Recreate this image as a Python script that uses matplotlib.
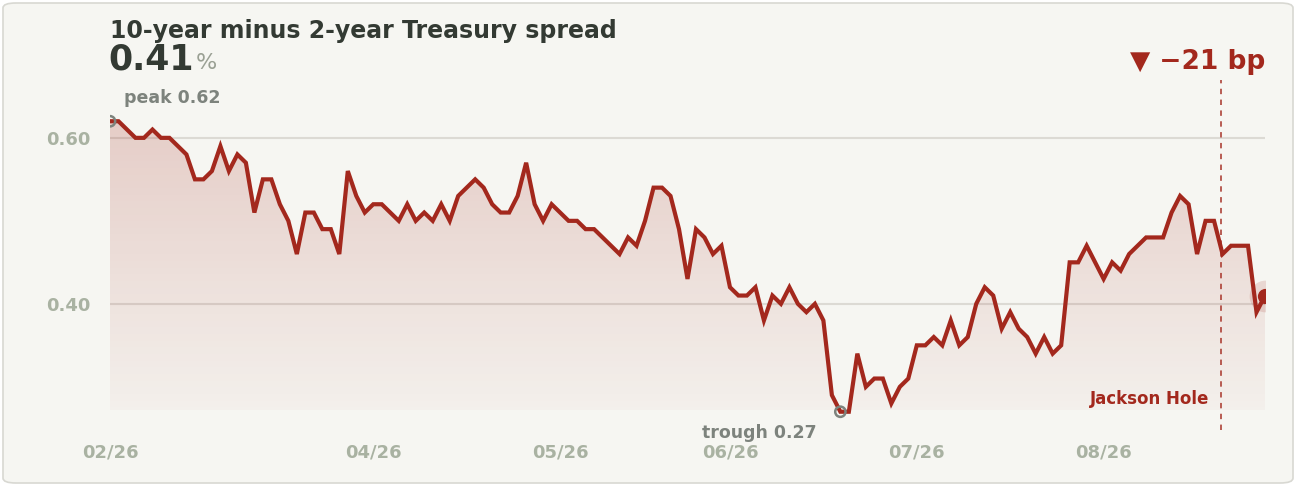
"""10y minus 2y Treasury spread: card-style line chart with shaded area."""

import matplotlib.pyplot as plt
import numpy as np
from matplotlib.patches import FancyBboxPatch

# Daily spread, in percent (business days)
spread = [
    0.62, 0.62, 0.61, 0.60, 0.60, 0.61, 0.60, 0.60, 0.59, 0.58, 0.55, 0.55, 0.56,
    0.59, 0.56, 0.58, 0.57, 0.51, 0.55, 0.55, 0.52, 0.50, 0.46, 0.51, 0.51, 0.49,
    0.49, 0.46, 0.56, 0.53, 0.51, 0.52, 0.52, 0.51, 0.50, 0.52, 0.50, 0.51, 0.50,
    0.52, 0.50, 0.53, 0.54, 0.55, 0.54, 0.52, 0.51, 0.51, 0.53, 0.57, 0.52, 0.50,
    0.52, 0.51, 0.50, 0.50, 0.49, 0.49, 0.48, 0.47, 0.46, 0.48, 0.47, 0.50, 0.54,
    0.54, 0.53, 0.49, 0.43, 0.49, 0.48, 0.46, 0.47, 0.42, 0.41, 0.41, 0.42, 0.38,
    0.41, 0.40, 0.42, 0.40, 0.39, 0.40, 0.38, 0.29, 0.27, 0.27, 0.34, 0.30, 0.31,
    0.31, 0.28, 0.30, 0.31, 0.35,
    0.35, 0.36, 0.35, 0.38, 0.35, 0.36, 0.40, 0.42, 0.41, 0.37, 0.39, 0.37, 0.36,
    0.34, 0.36, 0.34, 0.35, 0.45, 0.45, 0.47, 0.45, 0.43, 0.45, 0.44, 0.46, 0.47,
    0.48, 0.48, 0.48, 0.51, 0.53, 0.52, 0.46, 0.50, 0.50, 0.46, 0.47, 0.47, 0.47,
    0.39, 0.41,
]
tick_pos = [0, 31, 53, 73, 95, 117]
tick_labels = ["02/26", "04/26", "05/26", "06/26", "07/26", "08/26"]
event_pos = 130.8
event_label = "Jackson Hole"

RED = "#a3281d"
GRAY = "#7d837d"
TICK = "#a9b2a2"
BG = "#f6f6f2"

W, H = 1296, 486
x = np.arange(len(spread))
y = np.array(spread)
i_peak, i_trough = int(np.argmax(y)), int(np.argmin(y))
change_bp = round((y[-1] - y[0]) * 100)

fig = plt.figure(figsize=(W / 100, H / 100), dpi=100)
fig.patch.set_facecolor("white")
card = FancyBboxPatch((3 / W, 3 / H), 1 - 6 / W, 1 - 6 / H,
                      boxstyle="round,pad=0,rounding_size=0.01",
                      transform=fig.transFigure, facecolor=BG,
                      edgecolor="#d8d8d2", linewidth=1.2, zorder=-10)
fig.patches.append(card)

ax = fig.add_axes([110 / W, 1 - 430 / H, 1155 / W, 350 / H])
ax.set_facecolor("none")
ax.set_xlim(0, len(spread) - 1)
ylo, yhi = 0.248, 0.6697
ax.set_ylim(ylo, yhi)

# gradient fill under the line
grad = np.linspace(0.2, 0.03, 256).reshape(-1, 1)
rgba = np.zeros((256, 1, 4))
rgba[..., 0], rgba[..., 1], rgba[..., 2] = 0.64, 0.16, 0.11
rgba[..., 3] = grad
im = ax.imshow(rgba, aspect="auto", origin="upper",
               extent=(0, len(spread) - 1, 0.272, y.max()), zorder=1)
poly = ax.fill_between(x, y, 0.272, color="none")
im.set_clip_path(poly.get_paths()[0], transform=ax.transData)
ax.set_xlim(0, len(spread) - 1)
ax.set_ylim(ylo, yhi)

for v in (0.40, 0.60):
    ax.axhline(v, color="#dcdad4", lw=1.5, zorder=0)
ax.plot(x, y, color=RED, lw=3, zorder=3, solid_joinstyle="miter")

# end marker
ax.scatter([x[-1]], [y[-1]], s=520, color=RED, alpha=0.15, zorder=4, lw=0)
ax.scatter([x[-1]], [y[-1]], s=120, color=RED, zorder=5, lw=0)

# peak / trough markers
ax.scatter([i_peak, i_trough], [y[i_peak], y[i_trough]], s=55, facecolor="none",
           edgecolor=GRAY, lw=1.8, zorder=5)
ax.annotate(f"peak {y[i_peak]:.2f}", (i_peak, y[i_peak]), xytext=(10, 10),
            textcoords="offset points", color=GRAY, fontsize=12.5,
            fontweight="bold", ha="left", va="bottom")
ax.annotate(f"trough {y[i_trough]:.2f}", (i_trough, y[i_trough]), xytext=(-58, -9),
            textcoords="offset points", color=GRAY, fontsize=12.5,
            fontweight="bold", ha="center", va="top")

# event line
ax.axvline(event_pos, ymin=0, ymax=(0.67 - ylo) / (yhi - ylo), color=RED,
           lw=1.3, ls=(0, (3, 3)), alpha=0.8, zorder=2)
ax.text(event_pos - 1.3, 0.275, event_label, color=RED, fontsize=12,
        fontweight="bold", ha="right", va="bottom")

ax.set_yticks([0.40, 0.60])
ax.set_yticklabels(["0.40", "0.60"])
ax.set_xticks(tick_pos)
ax.set_xticklabels(tick_labels)
ax.tick_params(length=0, labelsize=13, labelcolor=TICK)
ax.tick_params(axis="y", pad=14)
ax.tick_params(axis="x", pad=10)
for lab in ax.get_xticklabels() + ax.get_yticklabels():
    lab.set_fontweight("bold")
for s in ax.spines.values():
    s.set_visible(False)

fig.text(110 / W, 1 - 31 / H, "10-year minus 2-year Treasury spread",
         fontsize=17, fontweight="bold", color="#333a33", va="center")
t = fig.text(108 / W, 1 - 60 / H, f"{y[-1]:.2f}", fontsize=25,
             fontweight="bold", color="#333a33", va="center")
fig.canvas.draw()
bb = t.get_window_extent()
fig.text(bb.x1 / W + 2 / W, 1 - 63 / H, "%", fontsize=16, color="#9aa094",
         va="center")
fig.text(1265 / W, 1 - 62 / H, f"▼ \u2212{abs(change_bp)} bp", fontsize=19,
         fontweight="bold", color=RED, ha="right", va="center")

fig.savefig("out.png", dpi=100, facecolor=fig.get_facecolor())
